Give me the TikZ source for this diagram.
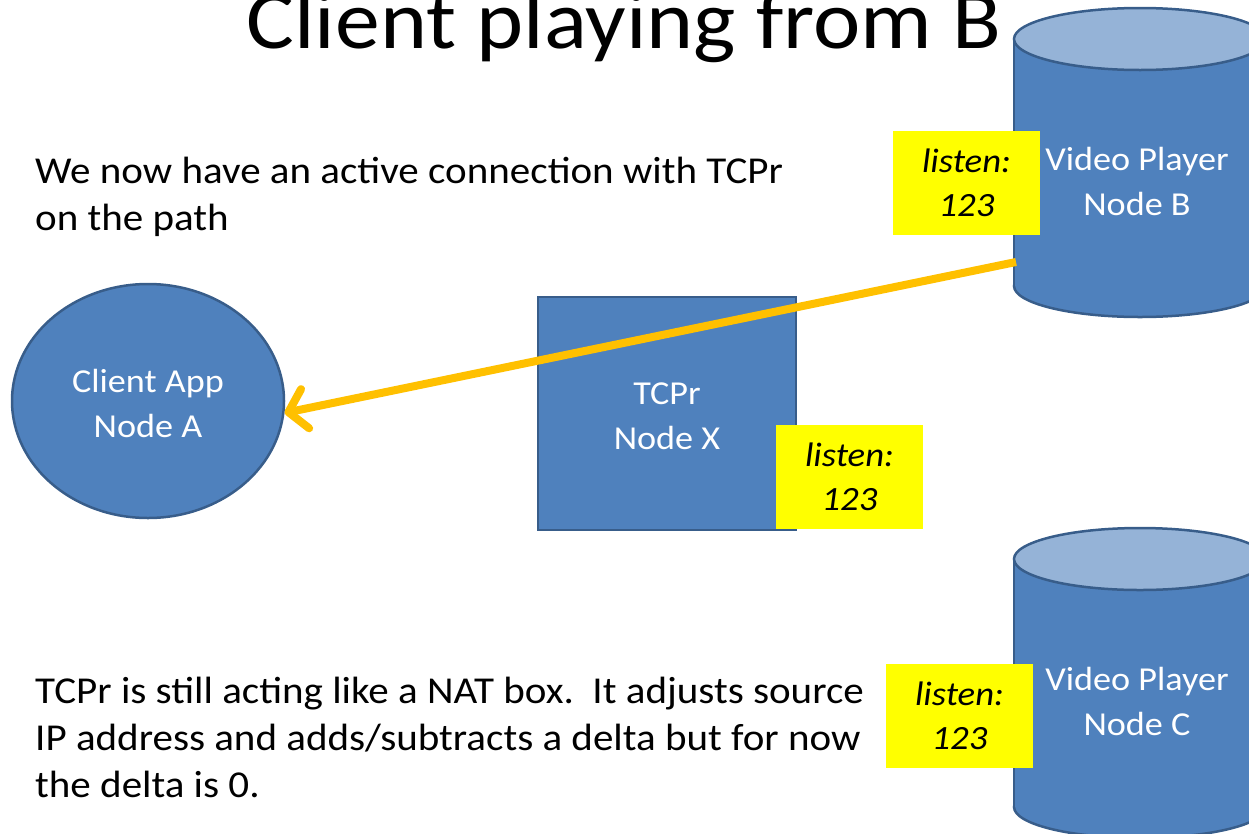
\documentclass[tikz,border=0pt]{standalone}
\usepackage{fontspec}
\setmainfont{Carlito}[FakeStretch=1.08]
\usetikzlibrary{arrows.meta,shapes.geometric}
\definecolor{nodeblue}{HTML}{4F81BD}
\definecolor{edgeblue}{HTML}{385D8A}
\definecolor{capblue}{HTML}{95B3D7}
\definecolor{amber}{HTML}{FFC000}
\definecolor{noteyellow}{HTML}{FFFF00}

% vertical storage drum: #1 centre x, #2 top-cap centre y, #3 base centre y
\newcommand{\storagedrum}[3]{%
  \filldraw[bluebody] (#1,#3) ellipse[x radius=126pt, y radius=31pt];
  \fill[nodeblue] (#1-126,#2) rectangle (#1+126,#3);
  \draw[edgeblue, line width=2.5pt] (#1-126,#2) -- (#1-126,#3) (#1+126,#2) -- (#1+126,#3);
  \filldraw[fill=capblue, draw=edgeblue, line width=2.5pt] (#1,#2) ellipse[x radius=126pt, y radius=31pt];
}

\begin{document}
\begin{tikzpicture}[x=1pt,y=-1pt,
  shapetext/.style={text=white, font=\fontsize{33.5}{45}\selectfont, align=center, inner sep=0pt},
  bluebody/.style={fill=nodeblue, draw=edgeblue, line width=2.5pt},
  note/.style={fill=noteyellow, inner sep=0pt, minimum width=147pt, minimum height=104pt,
               font=\fontsize{34}{44}\selectfont\itshape, align=center},
  bodytext/.style={font=\fontsize{38}{47}\selectfont, align=left, inner sep=0pt, anchor=base west},
  flow/.style={draw=amber, line width=8pt, -{Straight Barb[length=17pt,width=40pt,round]}}
]
\useasboundingbox (0,0) rectangle (1249,833);
\clip (0,0) rectangle (1249,833);

% title and explanatory text (base anchor sits on the last line)
\node (title) [font=\fontsize{83}{96}\selectfont, anchor=base, inner sep=0pt] at (624,48) {Client playing from B};
\node (note1) [bodytext] at (35,230) {We now have an active connection with TCPr\\on the path};
\node (note2) [bodytext] at (35,797) {TCPr is still acting like a NAT box.\ \ It adjusts source\\IP address and adds/subtracts a delta but for now\\the delta is 0.};

% client and relay
\node (A) [ellipse, bluebody, minimum width=272pt, minimum height=234pt] at (148,401) {};
\node (Atext) [shapetext] at (148,403) {Client App\\Node A};
\node (X) [rectangle, bluebody, minimum width=258pt, minimum height=233pt] at (667,413.5) {};
\node (Xtext) [shapetext] at (667,416) {TCPr\\Node X};

% video players
\storagedrum{1140}{39}{286}
\node (B) [shapetext] at (1137,181) {Video Player\\Node B};
\storagedrum{1140}{559}{807}
\node (C) [shapetext] at (1137,701) {Video Player\\Node C};

% listening ports
\node (lb) [note] at (966.5,183) {listen:\\123};
\node (lx) [note] at (849.5,476.5) {listen:\\123};
\node (lc) [note] at (959.5,716) {listen:\\123};

% stream from B to A through X
\coordinate (bout) at (1016,262);
\draw[flow] (bout) -- (A.-5);
\end{tikzpicture}
\end{document}
